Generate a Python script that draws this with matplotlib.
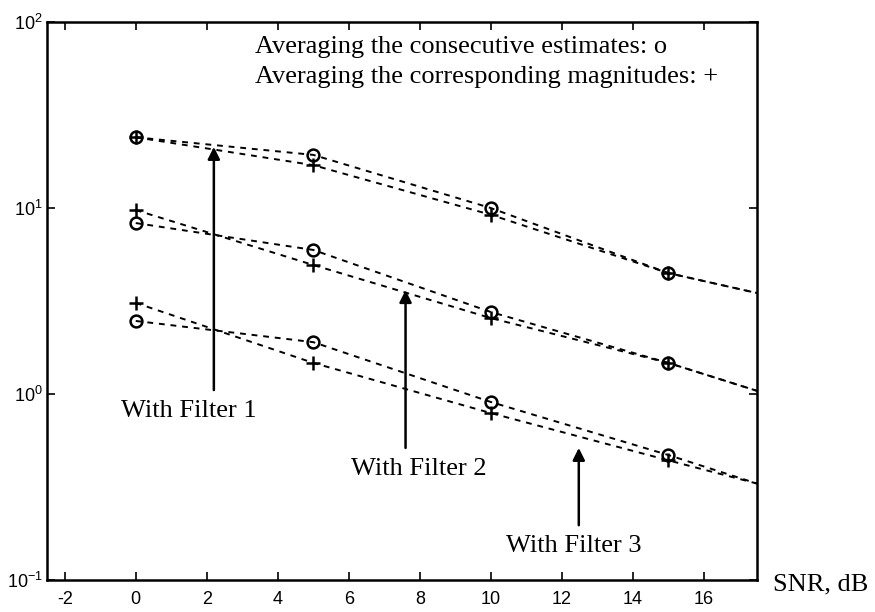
import numpy as np
import matplotlib.pyplot as plt
from matplotlib.ticker import FixedLocator, FixedFormatter, NullLocator

plt.rcParams['axes.unicode_minus'] = False
plt.rcParams['mathtext.fontset'] = 'custom'
plt.rcParams['mathtext.rm'] = 'Liberation Sans'

# SNR (dB) dos pontos medidos e ponto final das curvas no limite do eixo
snr = [0, 5, 10, 15, 17.5]

# Filtro 1
f1_avg_est = [24.0, 19.3, 10.0, 4.47, 3.49]   # o
f1_avg_mag = [24.0, 17.0, 9.2, 4.47, 3.49]    # +
# Filtro 2
f2_avg_est = [8.3, 5.95, 2.76, 1.47, 1.04]
f2_avg_mag = [9.75, 4.94, 2.56, 1.47, 1.04]
# Filtro 3
f3_avg_est = [2.47, 1.90, 0.906, 0.47, 0.33]
f3_avg_mag = [3.09, 1.47, 0.79, 0.44, 0.33]

xticks = [-2, 0, 2, 4, 6, 8, 10, 12, 14, 16]
yticks = [0.1, 1, 10, 100]
ytick_labels = [r'$10^{-1}$', r'$10^{0}$', r'$10^{1}$', r'$10^{2}$']

fig = plt.figure(figsize=(8.75, 6.12), dpi=100)
ax = fig.add_axes([47/875, 1 - 580/612, 710/875, 558/612])
ax.set_yscale('log')

n_pts = 4  # os marcadores só existem nos pontos medidos
for est, mag in [(f1_avg_est, f1_avg_mag), (f2_avg_est, f2_avg_mag), (f3_avg_est, f3_avg_mag)]:
    ax.plot(snr, est, ls=(0, (3, 3)), color='k', lw=1.4)
    ax.plot(snr, mag, ls=(0, (3, 3)), color='k', lw=1.4)
    ax.plot(snr[:n_pts], est[:n_pts], 'o', mfc='none', mec='k', ms=8.5, mew=1.8)
    ax.plot(snr[:n_pts], mag[:n_pts], '+', color='k', ms=9.5, mew=1.8)

ax.set_xlim(-2.5, 17.5)
ax.set_ylim(0.1, 100)

ax.xaxis.set_major_locator(FixedLocator(xticks))
ax.yaxis.set_major_locator(FixedLocator(yticks))
ax.yaxis.set_major_formatter(FixedFormatter(ytick_labels))
ax.yaxis.set_minor_locator(NullLocator())
ax.tick_params(direction='in', top=True, right=True, length=6, width=1.2, labelsize=13)
ax.tick_params(axis='x', pad=8)
ax.tick_params(axis='y', pad=3)
for lab in ax.get_xticklabels() + ax.get_yticklabels():
    lab.set_family('Liberation Sans')
for s in ax.spines.values():
    s.set_linewidth(1.8)

serif = 'Liberation Serif'
fs = 19
ax.text(0.293, 0.944, 'Averaging the consecutive estimates: o', transform=ax.transAxes,
        family=serif, fontsize=fs, va='baseline', ha='left')
ax.text(0.293, 0.891, 'Averaging the corresponding magnitudes: +', transform=ax.transAxes,
        family=serif, fontsize=fs, va='baseline', ha='left')

arrow = dict(arrowstyle='-|>', color='k', lw=1.8, mutation_scale=18, shrinkA=0, shrinkB=0)
ax.annotate('', xy=(2.2, 21.3), xytext=(2.2, 1.05), arrowprops=arrow)
ax.annotate('', xy=(7.6, 3.62), xytext=(7.6, 0.513), arrowprops=arrow)
ax.annotate('', xy=(12.48, 0.513), xytext=(12.48, 0.197), arrowprops=arrow)
ax.text(1.49, 0.752, 'With Filter 1', family=serif, fontsize=fs, ha='center', va='baseline')
ax.text(7.97, 0.367, 'With Filter 2', family=serif, fontsize=fs, ha='center', va='baseline')
ax.text(12.35, 0.141, 'With Filter 3', family=serif, fontsize=fs, ha='center', va='baseline')

fig.text(773/875, 0.036, 'SNR, dB', family=serif, fontsize=fs, ha='left', va='baseline')

fig.savefig('out.png', dpi=100)
